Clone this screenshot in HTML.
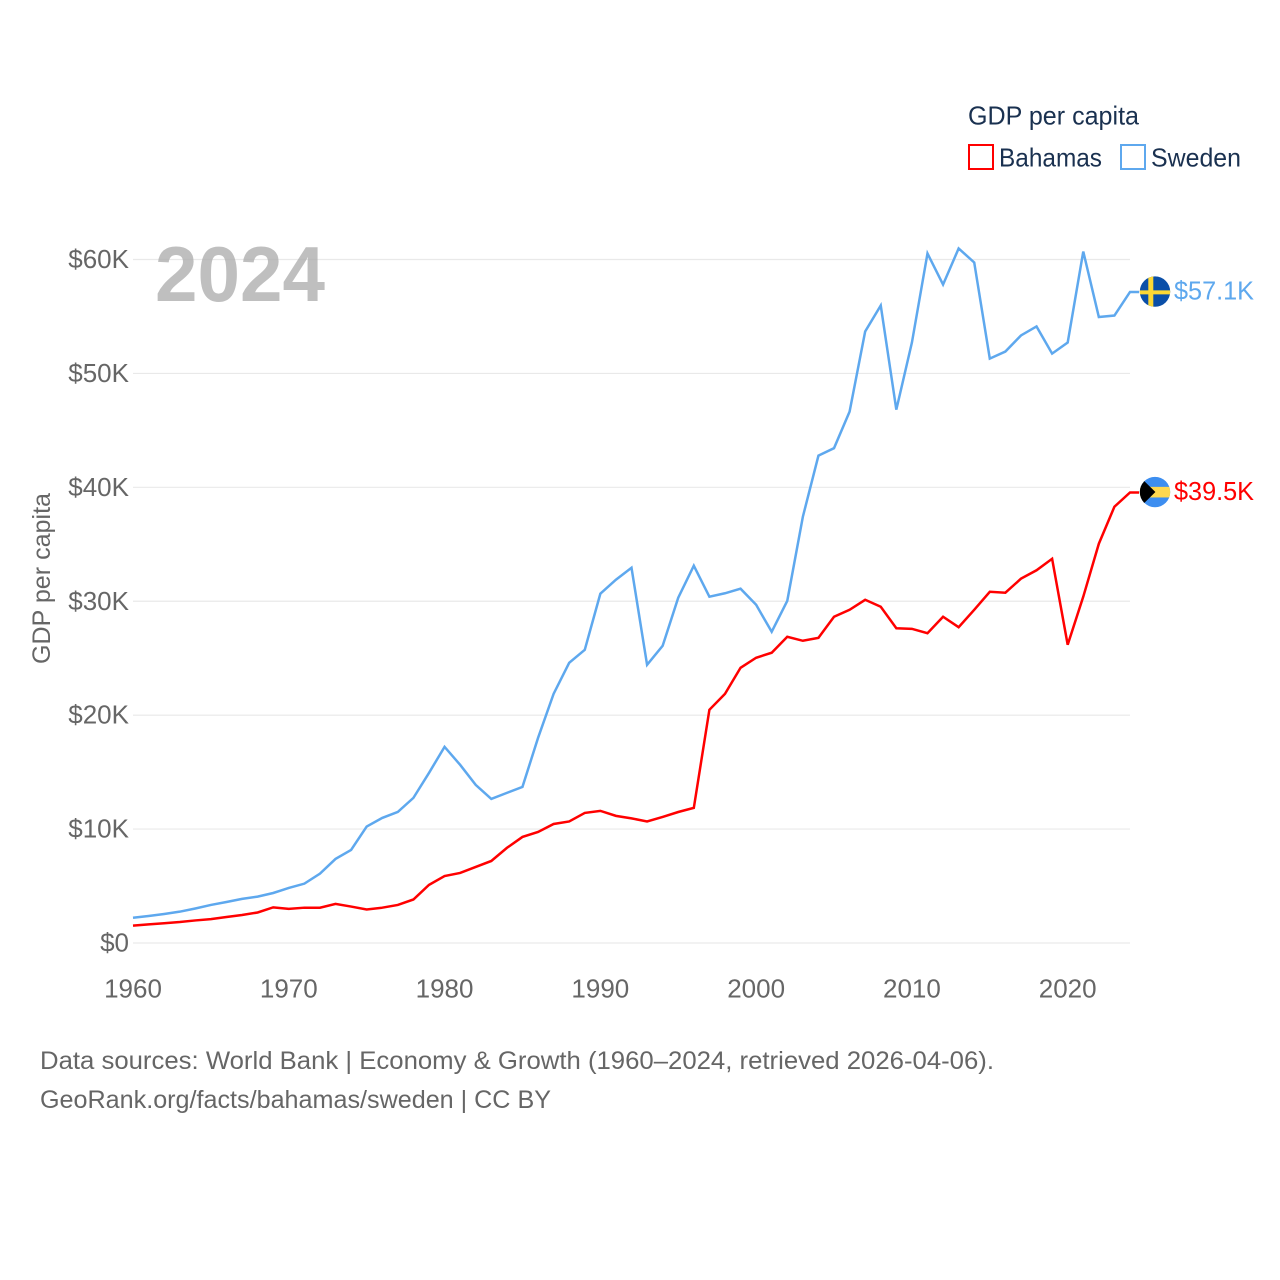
<!DOCTYPE html>
<html lang="en">
<head>
<meta charset="utf-8">
<title>GDP per capita: Bahamas vs Sweden</title>
<style>
  html, body { margin: 0; padding: 0; background: #fff; }
  svg { display: block; }
  text { font-family: "Liberation Sans", sans-serif; }
</style>
</head>
<body>
<svg id="chart" xmlns="http://www.w3.org/2000/svg" width="1280" height="1280" viewBox="0 0 1280 1280">
  <defs>
    <clipPath id="sweden-clip"><circle id="sweden-clip-circle" cx="1155" cy="292" r="15.2"></circle></clipPath>
    <clipPath id="bahamas-clip"><circle id="bahamas-clip-circle" cx="1155" cy="492" r="15.2"></circle></clipPath>
  </defs>
  <rect x="0" y="0" width="1280" height="1280" fill="#ffffff"></rect>
  <g id="grid"></g>
  <g id="y-ticks"></g>
  <g id="x-ticks"></g>
  <text transform="translate(50,664) rotate(-90)" font-size="25" fill="#666666" textLength="171" lengthAdjust="spacingAndGlyphs">GDP per capita</text>
  <g id="series"></g>
  <text x="155" y="301" font-size="78" font-weight="700" fill="#a9a9a9" fill-opacity="0.75" textLength="170" lengthAdjust="spacingAndGlyphs">2024</text>
  <g>
    <text x="968" y="124.5" font-size="26" fill="#1a3150" textLength="171" lengthAdjust="spacingAndGlyphs">GDP per capita</text>
    <g>
      <rect x="969" y="145" width="24" height="24" fill="#ffffff" stroke="#ff0000" stroke-width="2"></rect>
      <text x="999" y="166.5" font-size="26" fill="#1a3150" textLength="103" lengthAdjust="spacingAndGlyphs">Bahamas</text>
    </g>
    <g>
      <rect x="1121" y="145" width="24" height="24" fill="#ffffff" stroke="#5ea8ee" stroke-width="2"></rect>
      <text x="1151" y="166.5" font-size="26" fill="#1a3150" textLength="90" lengthAdjust="spacingAndGlyphs">Sweden</text>
    </g>
  </g>
  <g id="end-labels"></g>
  <text x="40" y="1069" font-size="25" fill="#666666" textLength="954" lengthAdjust="spacingAndGlyphs">Data sources: World Bank | Economy &amp; Growth (1960–2024, retrieved 2026-04-06).</text>
  <text x="40" y="1108" font-size="25" fill="#666666" textLength="511" lengthAdjust="spacingAndGlyphs">GeoRank.org/facts/bahamas/sweden | CC BY</text>
</svg>
<script>
const firstYear = 1960;
const xTickYears = [1960, 1970, 1980, 1990, 2000, 2010, 2020];
const yTickValues = [0, 10, 20, 30, 40, 50, 60];
const yTickLabels = ["$0", "$10K", "$20K", "$30K", "$40K", "$50K", "$60K"];
const endLabels = ["$39.5K", "$57.1K"];

const bahamasValues = [
  1.52, 1.63, 1.73, 1.84, 1.98, 2.10, 2.28, 2.46, 2.68, 3.13,
  3.00, 3.10, 3.10, 3.43, 3.20, 2.94, 3.10, 3.34, 3.82, 5.10,
  5.88, 6.15, 6.68, 7.20, 8.35, 9.31, 9.75, 10.45, 10.67, 11.42,
  11.60, 11.16, 10.94, 10.67, 11.07, 11.50, 11.86, 20.47, 21.87, 24.16,
  25.04, 25.48, 26.88, 26.53, 26.79, 28.64, 29.25, 30.13, 29.52, 27.63,
  27.58, 27.19, 28.64, 27.72, 29.25, 30.83, 30.75, 31.98, 32.72, 33.73,
  26.18, 30.40, 35.05, 38.30, 39.55
];
const swedenValues = [
  2.22, 2.37, 2.55, 2.75, 3.03, 3.34, 3.60, 3.87, 4.07, 4.39,
  4.83, 5.21, 6.09, 7.38, 8.17, 10.22, 10.98, 11.51, 12.74, 14.93,
  17.22, 15.64, 13.88, 12.65, 13.18, 13.70, 18.00, 21.87, 24.60, 25.74,
  30.66, 31.89, 32.94, 24.42, 26.09, 30.31, 33.12, 30.40, 30.70, 31.10,
  29.69, 27.32, 30.04, 37.42, 42.78, 43.44, 46.65, 53.68, 55.96, 46.82,
  52.71, 60.53, 57.80, 60.97, 59.74, 51.30, 51.92, 53.33, 54.12, 51.74,
  52.71, 60.70, 54.95, 55.08, 57.15
];

const svgNS = "http://www.w3.org/2000/svg";
function xScale(year) { return 133 + (year - 1960) * (997 / 64); }
function yScale(value) { return 943 - value * (683.5 / 60); }
function make(tag, attrs, parent, content) {
  const el = document.createElementNS(svgNS, tag);
  for (const k in attrs) el.setAttribute(k, attrs[k]);
  if (content !== undefined) el.textContent = content;
  parent.appendChild(el);
  return el;
}

const grid = document.getElementById("grid");
const yTicks = document.getElementById("y-ticks");
yTickValues.forEach(function (v, i) {
  const line = make("line", { x1: 133, x2: 1130, y1: yScale(v), y2: yScale(v), stroke: "#e9e9e9", "stroke-width": 1.2 }, grid);
  
  
  const label = make("text", { x: 129, y: yScale(v) + 8.5, "text-anchor": "end", "font-size": 26, fill: "#666666" }, yTicks, yTickLabels[i]);
  
  
});

const xTicks = document.getElementById("x-ticks");
xTickYears.forEach(function (yr) {
  const label = make("text", { x: xScale(yr), y: 997.7, "text-anchor": "middle", "font-size": 26, fill: "#666666" }, xTicks, String(yr));
  
  
});

function pathFor(values) {
  const pts = values.map(function (v, i) { return xScale(firstYear + i).toFixed(2) + "," + yScale(v).toFixed(2); });
  const last = values[values.length - 1];
  pts.push("1139," + yScale(last).toFixed(2));
  return "M" + pts.join("L");
}
const seriesGroup = document.getElementById("series");
const bahamasLine = make("path", { d: pathFor(bahamasValues), fill: "none", stroke: "#ff0000", "stroke-width": 2.5, "stroke-linejoin": "miter" }, seriesGroup);


const swedenLine = make("path", { d: pathFor(swedenValues), fill: "none", stroke: "#5ea8ee", "stroke-width": 2.5, "stroke-linejoin": "miter" }, seriesGroup);



const endGroup = document.getElementById("end-labels");
const bahamasY = yScale(bahamasValues[bahamasValues.length - 1]);
const swedenY = yScale(swedenValues[swedenValues.length - 1]);
document.getElementById("bahamas-clip-circle").setAttribute("cy", bahamasY - 0.4);
document.getElementById("sweden-clip-circle").setAttribute("cy", swedenY - 0.4);

const swedenFlag = make("g", { "clip-path": "url(#sweden-clip)" }, endGroup);


make("rect", { x: 1139, y: swedenY - 16, width: 32, height: 32, fill: "#0b4fa8" }, swedenFlag);
make("rect", { x: 1148.3, y: swedenY - 16, width: 5, height: 32, fill: "#fdd835" }, swedenFlag);
make("rect", { x: 1139, y: swedenY - 1.6, width: 32, height: 4, fill: "#fdd835" }, swedenFlag);

const bahamasFlag = make("g", { "clip-path": "url(#bahamas-clip)" }, endGroup);


make("rect", { x: 1139, y: bahamasY - 16, width: 32, height: 32, fill: "#3d8ef0" }, bahamasFlag);
make("rect", { x: 1139, y: bahamasY - 5.6, width: 32, height: 10.6, fill: "#ffd84f" }, bahamasFlag);
make("polygon", { points: "1135," + (bahamasY - 20.4) + " 1155.4," + (bahamasY - 0.4) + " 1135," + (bahamasY + 19.6), fill: "#000000" }, bahamasFlag);

const bahamasLabel = make("text", { x: 1174, y: bahamasY + 7.7, "font-size": 26, fill: "#ff0000", textLength: 80, lengthAdjust: "spacingAndGlyphs" }, endGroup, endLabels[0]);


const swedenLabel = make("text", { x: 1174, y: swedenY + 7.3, "font-size": 26, fill: "#5ea8ee", textLength: 80, lengthAdjust: "spacingAndGlyphs" }, endGroup, endLabels[1]);


</script>
</body>
</html>
